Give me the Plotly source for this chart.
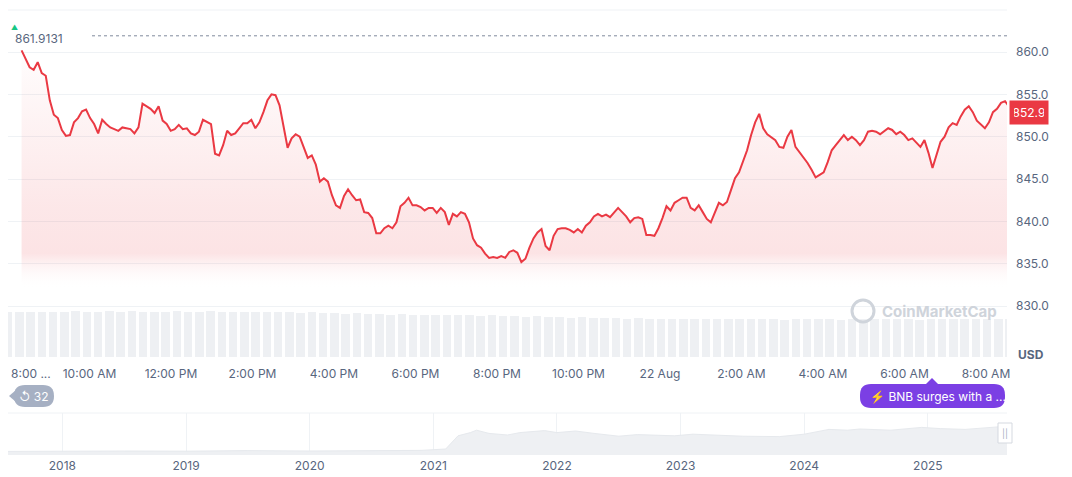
import pandas as pd
import plotly.graph_objects as go

prices = [860.2,859.1,858.2,857.9,858.8,857.5,857.2,854.3,852.6,852.2,850.8,850.1,850.2,851.7,852.2,853.0,853.2,852.2,851.5,850.4,
852.0,851.5,851.1,850.9,850.7,851.1,851.0,850.9,850.4,851.1,853.9,853.6,853.3,852.8,853.6,851.9,851.5,850.7,850.9,851.4,
850.9,851.0,850.4,850.2,850.6,852.0,851.7,851.5,848.0,847.8,849.0,850.7,850.2,850.4,851.0,851.6,851.6,852.0,851.0,851.7,
852.9,854.3,855.0,854.9,853.7,851.4,848.7,849.8,850.3,850.0,848.7,847.5,847.8,846.7,844.7,845.1,844.7,843.1,841.9,841.6,
843.0,843.8,843.1,842.5,842.6,841.1,841.0,840.4,838.6,838.6,839.2,839.5,839.2,839.9,841.8,842.2,842.8,841.9,841.9,841.7,
841.3,841.6,841.6,841.0,841.6,841.1,839.6,840.9,840.6,841.1,840.9,839.9,838.0,837.2,836.9,836.2,835.7,835.8,835.7,835.9,
835.7,836.4,836.6,836.3,835.2,835.6,836.9,838.0,838.7,839.1,837.1,836.6,838.3,839.1,839.2,839.2,839.0,838.7,839.1,838.7,
839.5,839.9,840.6,840.9,840.6,840.8,840.5,841.1,841.6,841.1,840.6,839.9,840.4,840.5,840.3,838.4,838.4,838.3,839.2,840.4,
841.8,841.3,842.2,842.5,842.8,842.8,841.6,841.3,841.9,841.1,840.3,839.9,841.1,842.2,841.9,842.3,843.7,845.1,845.8,847.2,
848.4,850.2,851.7,852.7,851.0,850.3,850.0,849.6,848.8,848.7,850.0,850.8,848.8,848.2,847.6,846.9,846.1,845.2,845.5,845.8,
847.0,848.4,849.0,849.6,850.2,849.6,850.0,849.6,849.0,849.6,850.6,850.7,850.6,850.3,850.6,851.0,850.8,850.3,850.6,850.2,
849.6,849.8,849.3,848.8,849.6,848.1,846.3,847.8,849.4,850.0,851.1,851.6,851.4,852.4,853.2,853.6,852.9,851.9,851.5,851.0,
851.7,852.9,853.3,854.0,854.2,853.6,852.9]
times = pd.date_range("2025-08-21 08:20", "2025-08-22 08:40", periods=len(prices))

volumes = [58,57,58,58,57,58,59,58,58,59,58,59,58,57,58,59,58,58,59,58,58,57,58,58,57,57,56,57,56,56,
55,56,55,55,54,55,54,54,53,54,53,53,52,53,52,52,51,52,51,51,50,51,50,50,50,49,50,49,49,49,
49,48,49,48,48,48,48,48,48,47,48,48,48,48,47,48,48,48,48,48,48,47,48,48,48,48,48,48,48,48]
vol_times = pd.date_range("2025-08-21 08:00", "2025-08-22 08:35", periods=len(volumes))

nav_years = [2017.56,2017.9,2018.0,2018.5,2019.0,2019.5,2020.0,2020.5,2020.9,2021.1,2021.2,2021.3,2021.35,2021.45,2021.6,2021.7,2021.8,2021.9,
2022.0,2022.15,2022.3,2022.5,2022.65,2022.8,2022.95,2023.1,2023.3,2023.5,2023.8,2024.0,2024.2,2024.35,2024.45,2024.7,2024.95,2025.1,2025.3,2025.5,2025.64]
nav_prices = [90,95,110,100,95,110,100,105,115,150,480,560,620,540,500,560,590,610,560,600,540,470,510,500,480,520,490,470,460,520,640,620,650,620,690,660,640,680,720]

tick_times = pd.date_range("2025-08-21 10:00", "2025-08-22 08:00", freq="2h")
tick_text = ["10:00 AM","12:00 PM","2:00 PM","4:00 PM","6:00 PM","8:00 PM","10:00 PM","22 Aug","2:00 AM","4:00 AM","6:00 AM","8:00 AM"]
price_ticks = [830,835,840,845,850,855,860]
high_price = 861.9131
last_price = 852.9

RED = "#ea3943"
GREY = "#58667e"
OFF = 8
W, H = 1072 - OFF, 477 - OFF
def px(x): return (x - 8) / 999
def py(y): return 1 - (y - OFF) / H

def note(x, y, text, size=12, color=GREY, xanchor="center", **kw):
    fig.add_annotation(xref="paper", yref="paper", x=px(x), y=py(y), text=text, showarrow=False,
                       xanchor=xanchor, yanchor="middle", font=dict(size=size, color=color), **kw)

fig = go.Figure()
fig.add_trace(go.Bar(x=vol_times, y=volumes, xaxis="x", yaxis="y3", marker=dict(color="#eef0f3", line=dict(width=0)), width=7.5e5, hoverinfo="skip"))
fig.add_trace(go.Scatter(x=times, y=[832]*len(times), mode="lines", line=dict(width=0), hoverinfo="skip"))
fig.add_trace(go.Scatter(x=times, y=prices, mode="lines", line=dict(color=RED, width=2), fill="tonexty",
    fillgradient=dict(type="vertical", colorscale=[[0, "rgba(255,255,255,0)"], [0.15, "rgba(234,57,67,0.14)"], [0.35, "rgba(234,57,67,0.12)"], [1, "rgba(234,57,67,0.01)"]])))
fig.add_trace(go.Scatter(x=nav_years, y=nav_prices, xaxis="x2", yaxis="y2", mode="lines", line=dict(color="#e6e9ed", width=1),
    fill="tozeroy", fillcolor="#eef0f3", hoverinfo="skip"))

fig.update_layout(
    width=W, height=H, margin=dict(l=0, r=W - 999, t=0, b=0), plot_bgcolor="white", paper_bgcolor="white",
    showlegend=False, font=dict(family="Inter", color=GREY, size=12), bargap=0,
    xaxis=dict(domain=[0, 1], range=[pd.Timestamp("2025-08-21 08:00"), pd.Timestamp("2025-08-22 08:31")],
               tickvals=tick_times, ticktext=tick_text, showgrid=False, zeroline=False, showline=False, ticks="", anchor="y3",
               ticklabelstandoff=8),
    yaxis=dict(domain=[py(357), py(10)], range=[824.0, 864.96], side="right", tickvals=price_ticks,
               ticktext=[f"{v:.1f}" for v in price_ticks], gridcolor="#eff2f5", zeroline=False, showline=False, ticks="", ticklabelstandoff=8),
    yaxis3=dict(domain=[py(357), py(310)], range=[0, 60], visible=False, anchor="x"),
    xaxis2=dict(domain=[0, 1], range=[2017.56, 2025.64], anchor="y2", tickvals=list(range(2018, 2026)),
                showgrid=True, gridcolor="#eff2f5", zeroline=False, ticks="", tickfont=dict(size=12), ticklabelstandoff=2),
    yaxis2=dict(domain=[py(455), py(413)], range=[0, 1050], visible=False),
)
fig.add_shape(type="line", xref="paper", yref="paper", x0=0, x1=1, y0=py(10), y1=py(10), line=dict(color="#eff2f5", width=1))
fig.add_shape(type="line", xref="paper", yref="paper", x0=0, x1=1, y0=py(413), y1=py(413), line=dict(color="#eff2f5", width=1))
fig.add_shape(type="line", xref="paper", yref="y", x0=px(92), x1=1, y0=high_price, y1=high_price, line=dict(color="#808a9d", width=1, dash="dot"))
note(13, 38, f"{high_price}", xanchor="left")
note(14, 27, "▲", size=7, color="#16c784")
fig.add_annotation(xref="paper", yref="y", x=1.0, y=last_price, text=f"{last_price}", showarrow=False, xanchor="left", yanchor="middle",
                   xshift=2, bgcolor=RED, font=dict(color="white", size=12), borderpad=4, width=30)
note(1046, 354, "<b>USD</b>", xanchor="right")
note(9, 373, "8:00 ...", xanchor="left")
fig.add_shape(type="circle", xref="paper", yref="paper", x0=px(852), x1=px(874), y0=py(322), y1=py(300), line=dict(color="#cfd4db", width=3))
note(880, 311, "<b>CoinMarketCap</b>", size=15, color="#cfd4db", xanchor="left")

def pill(x0, x1, y0, y1, r=11):
    return (f"M {px(x0+r)},{py(y0)} L {px(x1-r)},{py(y0)} Q {px(x1)},{py(y0)} {px(x1)},{py(y0+r)} L {px(x1)},{py(y1-r)} "
            f"Q {px(x1)},{py(y1)} {px(x1-r)},{py(y1)} L {px(x0+r)},{py(y1)} Q {px(x0)},{py(y1)} {px(x0)},{py(y1-r)} "
            f"L {px(x0)},{py(y0+r)} Q {px(x0)},{py(y0)} {px(x0+r)},{py(y0)} Z")
fig.add_shape(type="path", xref="paper", yref="paper", path=pill(860, 1005, 384, 408), fillcolor="#7b3fe4", line=dict(width=0))
fig.add_shape(type="path", xref="paper", yref="paper",
              path=f"M {px(926)},{py(384)} L {px(932)},{py(378)} L {px(938)},{py(384)} Z", fillcolor="#7b3fe4", line=dict(width=0))
note(868, 396, "⚡ BNB surges with a ...", color="white", xanchor="left")
fig.add_shape(type="path", xref="paper", yref="paper", path=pill(14, 54, 385, 407), fillcolor="#a6b0c3", line=dict(width=0))
fig.add_shape(type="path", xref="paper", yref="paper",
              path=f"M {px(16)},{py(390)} L {px(9)},{py(396)} L {px(16)},{py(402)} Z", fillcolor="#a6b0c3", line=dict(width=0))
note(34, 396, "↺ 32", color="white")
fig.add_shape(type="rect", xref="paper", yref="paper", x0=px(998), x1=px(1012), y0=py(443), y1=py(423),
              fillcolor="white", line=dict(color="#d5d9e0", width=1))
note(1005, 433, "||", size=9, color="#a6b0c3")

fig.write_html("out.html")
